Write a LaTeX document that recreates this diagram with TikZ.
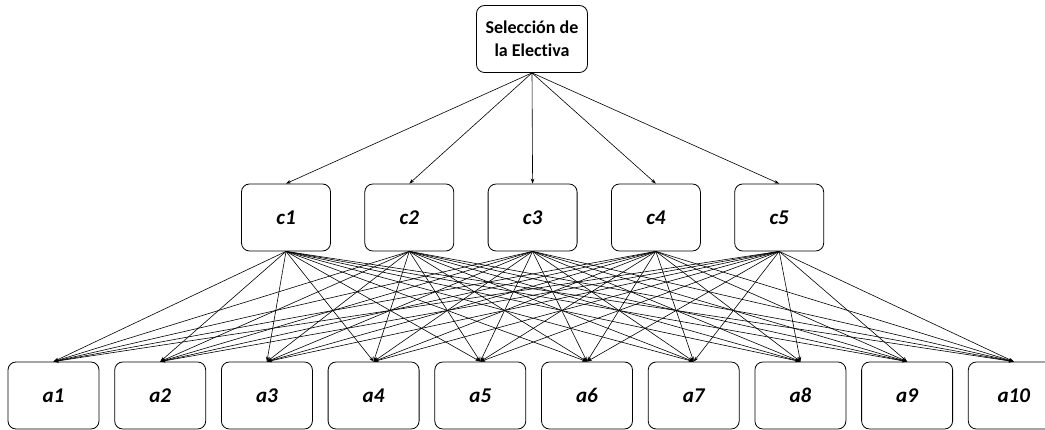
\documentclass[tikz,border=0pt]{standalone}
\usepackage{fontspec}
\setmainfont[Ligatures=NoCommon]{Carlito}
\usetikzlibrary{arrows.meta}
\begin{document}
\begin{tikzpicture}[x=1pt, y=-1pt, >={Stealth[length=5pt,width=3.5pt]},
  box/.style={draw, rounded corners=8pt, line width=0.8pt, minimum height=67pt},
  goalbox/.style={box, minimum width=111pt, align=center, font=\bfseries\fontsize{18}{23}\selectfont},
  critbox/.style={box, minimum width=89pt, font=\bfseries\itshape\fontsize{21}{24}\selectfont},
  altbox/.style={box, minimum width=91pt, font=\bfseries\itshape\fontsize{21}{24}\selectfont},
  link/.style={->, line width=0.6pt}]
  \useasboundingbox (0,0) rectangle (1045,430);

  % Goal at the top
  \node[goalbox, inner sep=2pt] (goal) at (532,39) {Selección de\\la Electiva};

  % Criteria
  \foreach \i in {1,...,5}
    \node[critbox] (c\i) at ({286+123.3*(\i-1)},217.5) {c\i};

  % Alternatives
  \foreach \j in {1,...,10}
    \node[altbox] (a\j) at ({53.5+106.7*(\j-1)},395.5) {a\j};

  % Goal to criteria
  \foreach \i in {1,...,5}
    \draw[link] (goal.south) -- (c\i.north);

  % Criteria to alternatives
  \foreach \i in {1,...,5}
    \foreach \j in {1,...,10}
      \draw[link] (c\i.south) -- (a\j.north);
\end{tikzpicture}
\end{document}
